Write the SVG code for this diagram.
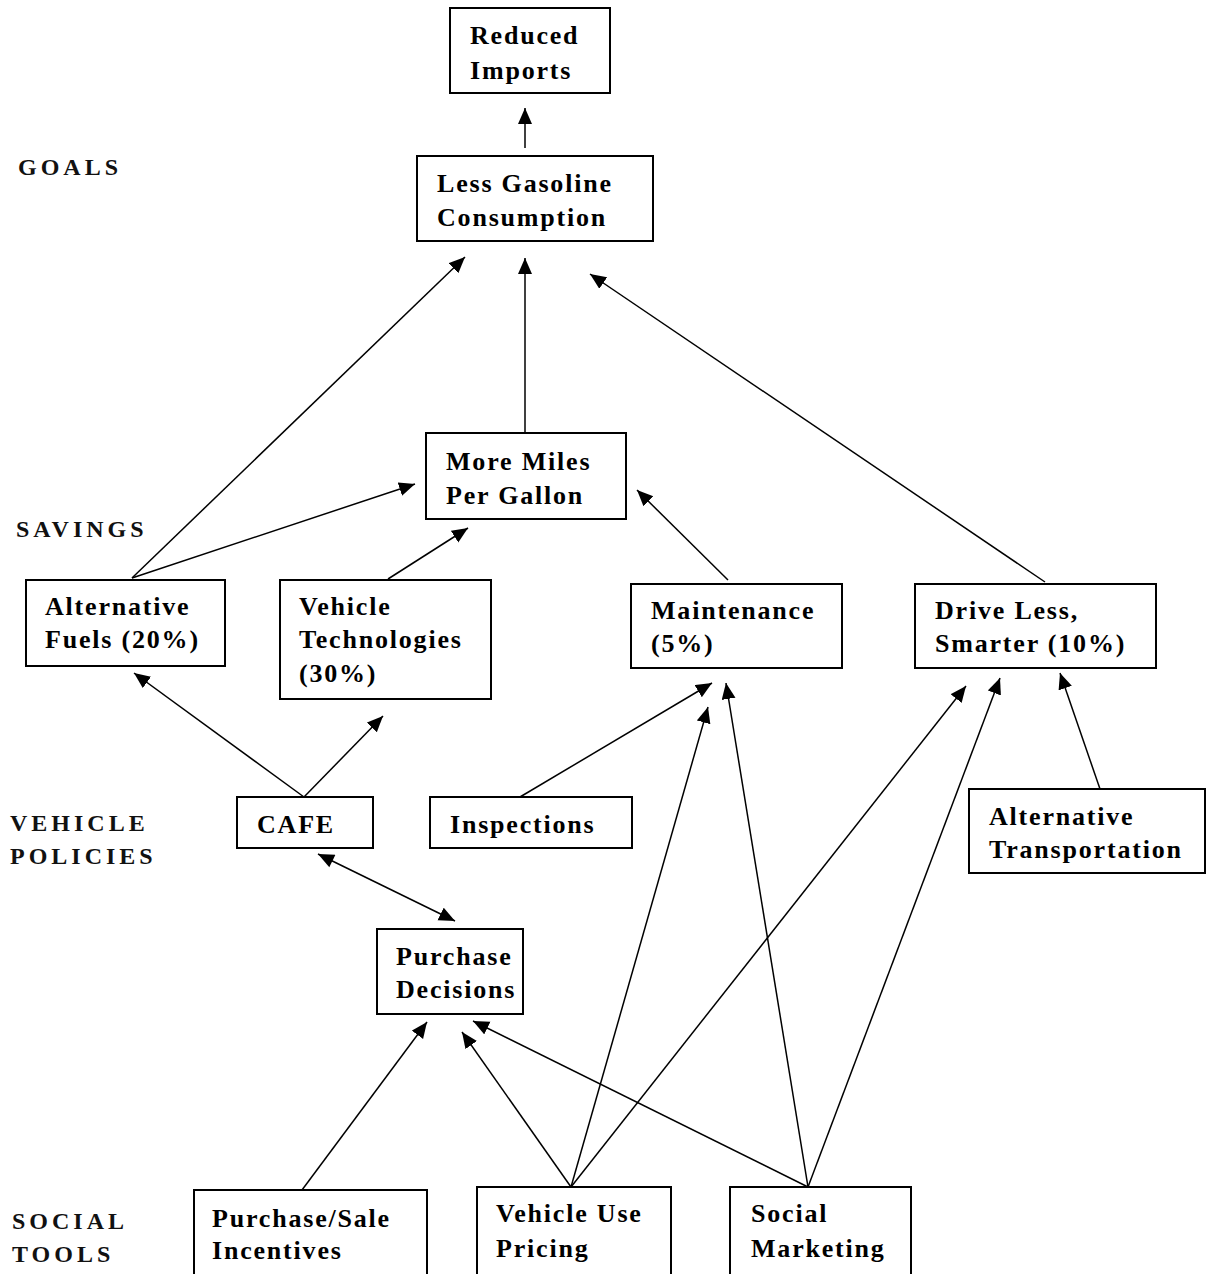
<svg xmlns="http://www.w3.org/2000/svg" width="1206" height="1274" viewBox="0 0 1206 1274">
<style>
.box{fill:#fff;stroke:#000;stroke-width:2}
.t{font-family:"Liberation Serif","Times New Roman",serif;font-weight:bold;font-size:26px;letter-spacing:1.8px;fill:#000}
.lab{font-family:"Liberation Serif","Times New Roman",serif;font-weight:bold;font-size:24px;letter-spacing:4px;fill:#111}
.c line{stroke:#000;stroke-width:1.5;fill:none}
</style>
<defs>
<marker id="ah" markerUnits="userSpaceOnUse" markerWidth="18" markerHeight="16" refX="16" refY="7" orient="auto">
<path d="M0,0 L16,7 L0,14 z" fill="#000"/>
</marker>
<marker id="as" markerUnits="userSpaceOnUse" markerWidth="18" markerHeight="16" refX="0" refY="7" orient="auto">
<path d="M16,0 L0,7 L16,14 z" fill="#000"/>
</marker>
</defs>
<rect width="1206" height="1274" fill="#fff"/>

<g id="labels">
<text class="lab" x="18" y="175">GOALS</text>
<text class="lab" x="16" y="537">SAVINGS</text>
<text class="lab" x="10" y="831">VEHICLE</text>
<text class="lab" x="10" y="864">POLICIES</text>
<text class="lab" x="12" y="1229">SOCIAL</text>
<text class="lab" x="12" y="1262">TOOLS</text>
</g>

<g class="c" id="connectors">
<line x1="525" y1="148" x2="525" y2="108" marker-end="url(#ah)"/>
<line x1="525" y1="433" x2="525" y2="258" marker-end="url(#ah)"/>
<line x1="132" y1="578" x2="465" y2="257" marker-end="url(#ah)"/>
<line x1="132" y1="578" x2="415" y2="484" marker-end="url(#ah)"/>
<line x1="1045" y1="582" x2="590" y2="274" marker-end="url(#ah)"/>
<line x1="388" y1="579" x2="468" y2="528" marker-end="url(#ah)"/>
<line x1="728" y1="580" x2="637" y2="490" marker-end="url(#ah)"/>
<line x1="304" y1="797" x2="134" y2="673" marker-end="url(#ah)"/>
<line x1="304" y1="797" x2="383" y2="716" marker-end="url(#ah)"/>
<line x1="520" y1="797" x2="712" y2="683" marker-end="url(#ah)"/>
<line x1="318" y1="854" x2="455" y2="921" marker-start="url(#as)" marker-end="url(#ah)"/>
<line x1="1100" y1="789" x2="1060" y2="673" marker-end="url(#ah)"/>
<line x1="302" y1="1190" x2="427" y2="1022" marker-end="url(#ah)"/>
<line x1="571" y1="1187" x2="462" y2="1032" marker-end="url(#ah)"/>
<line x1="571" y1="1187" x2="708" y2="707" marker-end="url(#ah)"/>
<line x1="571" y1="1187" x2="966" y2="686" marker-end="url(#ah)"/>
<line x1="808" y1="1187" x2="473" y2="1021" marker-end="url(#ah)"/>
<line x1="808" y1="1187" x2="726" y2="683" marker-end="url(#ah)"/>
<line x1="808" y1="1187" x2="1000" y2="678" marker-end="url(#ah)"/>
</g>

<g id="reduced-imports"><rect class="box" x="450" y="8" width="160" height="85"/>
<text class="t" x="470" y="44">Reduced</text><text class="t" x="470" y="79">Imports</text></g>

<g id="less-gasoline"><rect class="box" x="417" y="156" width="236" height="85"/>
<text class="t" x="437" y="192">Less Gasoline</text><text class="t" x="437" y="226">Consumption</text></g>

<g id="more-miles"><rect class="box" x="426" y="433" width="200" height="86"/>
<text class="t" x="446" y="470">More Miles</text><text class="t" x="446" y="504">Per Gallon</text></g>

<g id="alt-fuels"><rect class="box" x="26" y="580" width="199" height="86"/>
<text class="t" x="45" y="615">Alternative</text><text class="t" x="45" y="648">Fuels (20%)</text></g>

<g id="vehicle-tech"><rect class="box" x="280" y="580" width="211" height="119"/>
<text class="t" x="299" y="615">Vehicle</text><text class="t" x="299" y="648">Technologies</text><text class="t" x="299" y="682">(30%)</text></g>

<g id="maintenance"><rect class="box" x="631" y="584" width="211" height="84"/>
<text class="t" x="651" y="619">Maintenance</text><text class="t" x="651" y="652">(5%)</text></g>

<g id="drive-less"><rect class="box" x="915" y="584" width="241" height="84"/>
<text class="t" x="935" y="619">Drive Less,</text><text class="t" x="935" y="652">Smarter (10%)</text></g>

<g id="cafe"><rect class="box" x="237" y="797" width="136" height="51"/>
<text class="t" x="257" y="833">CAFE</text></g>

<g id="inspections"><rect class="box" x="430" y="797" width="202" height="51"/>
<text class="t" x="450" y="833">Inspections</text></g>

<g id="alt-transport"><rect class="box" x="969" y="789" width="236" height="84"/>
<text class="t" x="989" y="825">Alternative</text><text class="t" x="989" y="858">Transportation</text></g>

<g id="purchase-decisions"><rect class="box" x="377" y="929" width="146" height="85"/>
<text class="t" x="396" y="965">Purchase</text><text class="t" x="396" y="998">Decisions</text></g>

<g id="purchase-sale"><rect class="box" x="194" y="1190" width="233" height="100"/>
<text class="t" x="212" y="1227">Purchase/Sale</text><text class="t" x="212" y="1259">Incentives</text></g>

<g id="vehicle-use"><rect class="box" x="477" y="1187" width="194" height="100"/>
<text class="t" x="496" y="1222">Vehicle Use</text><text class="t" x="496" y="1257">Pricing</text></g>

<g id="social-marketing"><rect class="box" x="730" y="1187" width="181" height="100"/>
<text class="t" x="751" y="1222">Social</text><text class="t" x="751" y="1257">Marketing</text></g>
</svg>
